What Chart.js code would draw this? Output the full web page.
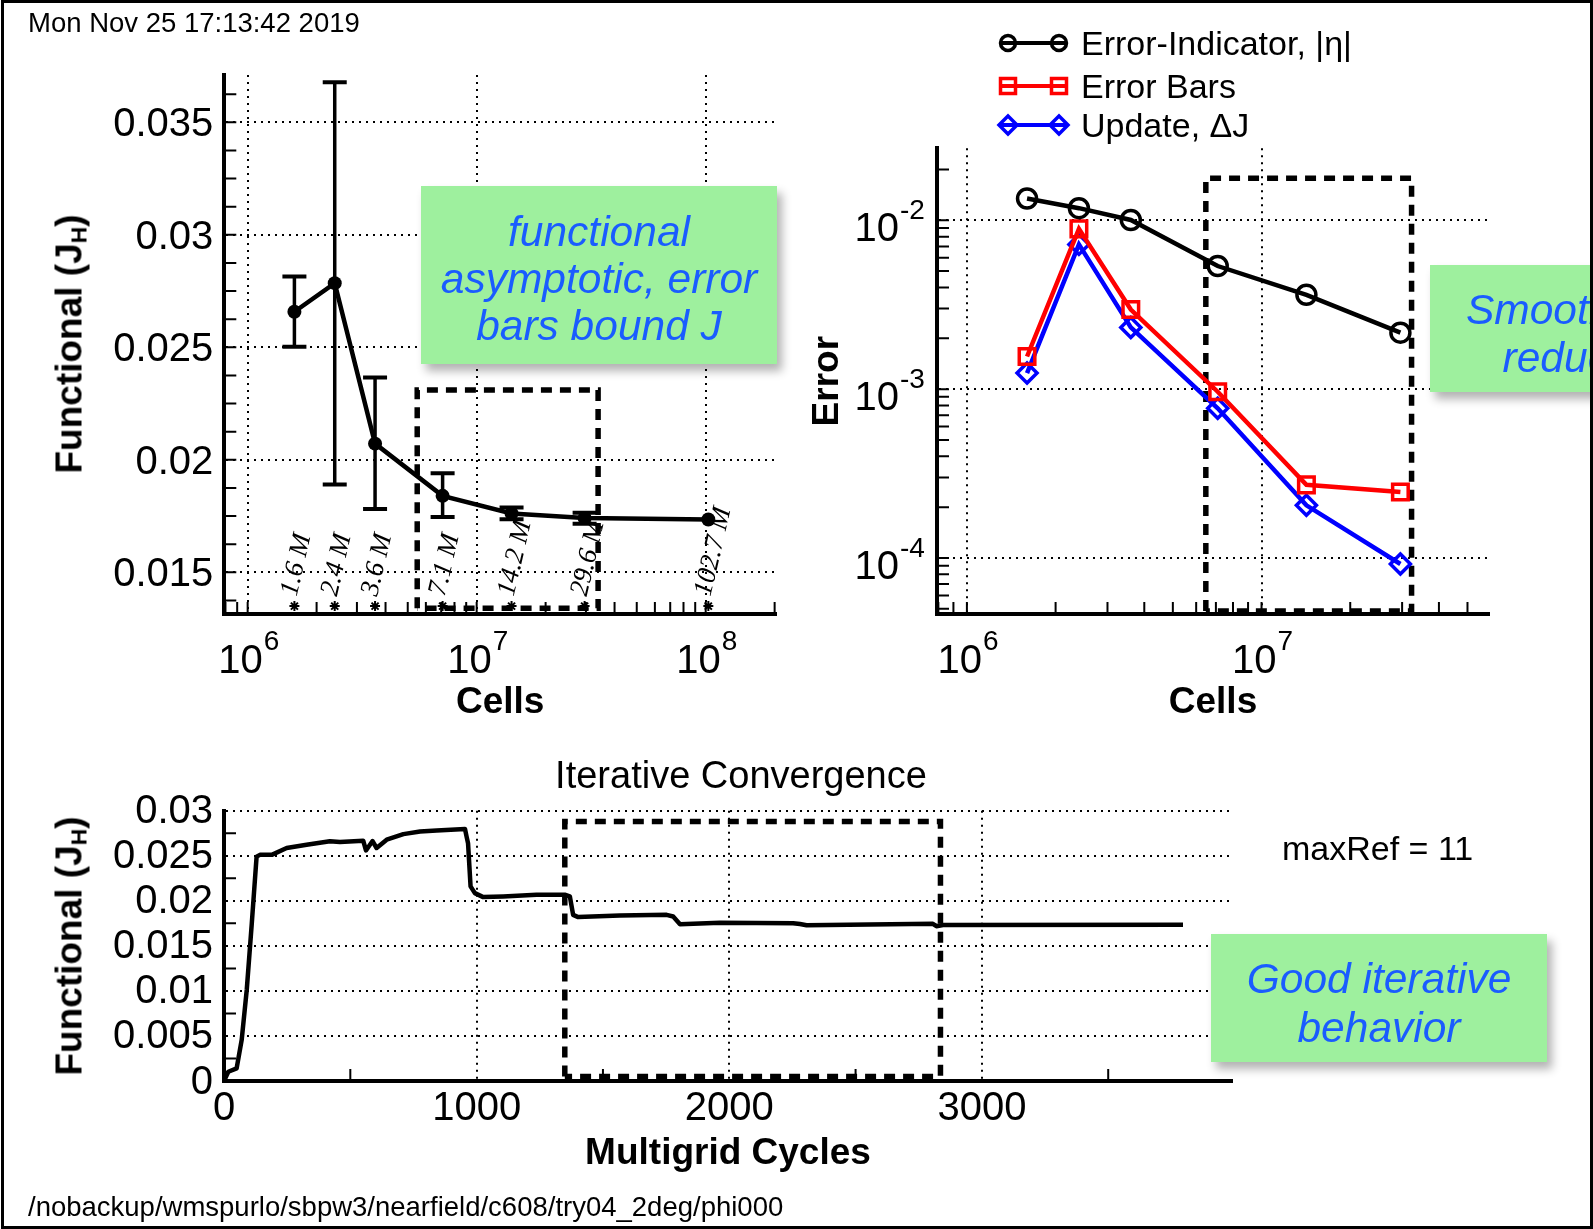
<!DOCTYPE html>
<html>
<head>
<meta charset="utf-8">
<script src="https://cdn.jsdelivr.net/npm/chart.js@4.4.1/dist/chart.umd.min.js"></script>
<style>
  html, body { margin: 0; padding: 0; background: #fff; }
  body { width: 1593px; height: 1229px; position: relative; overflow: hidden;
         font-family: "Liberation Sans", Arial, Helvetica, sans-serif; color: #000; }
  canvas { position: absolute; left: 0; top: 0; z-index: 1; }
  .txt { position: absolute; white-space: nowrap; line-height: 1; z-index: 2; }
  .vtitle { font-weight: bold; font-size: 37px; transform: translate(-50%, -50%) rotate(-90deg); }
  .vtitle sub { font-size: 0.62em; vertical-align: -0.22em; line-height: 0; }
  .note { position: absolute; z-index: 3; background: #9ef09e; box-shadow: 5px 7px 9px rgba(0,0,0,0.3);
          color: #1a5cff; font-style: italic; font-size: 42.5px; text-align: center; box-sizing: border-box;
          display: flex; flex-direction: column; justify-content: center; white-space: nowrap; }
  #frame { position: absolute; left: 1px; top: 0; width: 1592px; height: 1229px; box-sizing: border-box;
           border: 3px solid #000; z-index: 4; pointer-events: none; }
</style>
</head>
<body>
<canvas id="chartA" width="1593" height="1229"></canvas>
<canvas id="chartB" width="1593" height="1229"></canvas>
<canvas id="chartC" width="1593" height="1229"></canvas>

<div class="txt" style="left:28px; top:9px; font-size:27.5px;">Mon Nov 25 17:13:42 2019</div>
<div class="txt" style="left:28px; top:1193px; font-size:27.5px;">/nobackup/wmspurlo/sbpw3/nearfield/c608/try04_2deg/phi000</div>
<div class="txt vtitle" style="left:69px; top:344px;">Functional (J<sub>H</sub>)</div>
<div class="txt vtitle" style="left:69px; top:946px;">Functional (J<sub>H</sub>)</div>
<div class="txt" style="left:741px; top:775px; font-size:38px; transform:translate(-50%,-50%);">Iterative Convergence</div>
<div class="txt" style="left:1282px; top:831px; font-size:34px;">maxRef = 11</div>

<div class="note" style="left:421px; top:186px; width:356px; height:178px; line-height:47px; padding-top:6px;">
  <div>functional</div><div>asymptotic, error</div><div>bars bound J</div>
</div>
<div class="note" style="left:1430px; top:265px; width:320px; height:127px; line-height:48px; padding-top:10px;">
  <div>Smooth error</div><div>reduction</div>
</div>
<div class="note" style="left:1211px; top:934px; width:336px; height:128px; line-height:49px; padding-top:10px;">
  <div>Good iterative</div><div>behavior</div>
</div>
<div id="frame"></div>

<script>
// grid levels, millions of cells
const cellsM = [1.6, 2.4, 3.6, 7.1, 14.2, 29.6, 102.7];
const cellLabels = ['1.6 M', '2.4 M', '3.6 M', '7.1 M', '14.2 M', '29.6 M', '102.7 M'];

// functional with error bars (last grid has none)
const functional = [0.02658, 0.02785, 0.02072, 0.01840, 0.01762, 0.01742, 0.01735];
const errLow = [0.02502, 0.01890, 0.01782, 0.01746, 0.01736, 0.01716];
const errHigh = [0.02815, 0.03678, 0.02366, 0.01940, 0.01788, 0.01765];

// error estimates on the first six grids
const legendLabels = ['Error-Indicator, |\u03b7|', 'Error Bars', 'Update, \u0394J'];
const errIndicator = [0.01345, 0.0118, 0.01005, 0.00536, 0.00362, 0.00216];
const errBars = [0.00156, 0.0089, 0.00296, 0.000965, 0.000271, 0.000246];
const updateDJ = [0.001245, 0.0072, 0.00232, 0.00077, 0.000205, 0.0000921];

// iterative convergence history
const cycles = [0, 17, 50, 70, 90, 110, 129, 142, 189, 248, 327, 419, 459, 551, 562,
  588, 604, 644, 710, 776, 842, 954, 960, 966, 976, 993, 1026, 1105, 1237, 1349,
  1369, 1382, 1402, 1567, 1752, 1778, 1805, 1963, 2253, 2280, 2306, 2806, 2820, 2846, 3796];
const iterFunctional = [0, 0.00103, 0.0014, 0.00456, 0.0101, 0.0175, 0.0249, 0.0251, 0.0251, 0.02586,
  0.02622, 0.0266, 0.02652, 0.02667, 0.02559, 0.02663, 0.02586, 0.02678, 0.0274, 0.0277,
  0.0278, 0.02796, 0.02715, 0.0264, 0.0216, 0.02085, 0.02041, 0.02048, 0.02067, 0.02067,
  0.0205, 0.01844, 0.01819, 0.01837, 0.01844, 0.01826, 0.01741, 0.01757, 0.01752, 0.01742,
  0.01728, 0.01744, 0.01718, 0.01732, 0.01733];

// tick labels
const funcTicks = [0.015, 0.02, 0.025, 0.03, 0.035];
const decadesA = [6, 7, 8];
const decadesB = [6, 7];
const errDecades = [-2, -3, -4];
const iterYTicks = [0, 0.005, 0.01, 0.015, 0.02, 0.025, 0.03];
const iterXTicks = [0, 1000, 2000, 3000];

// dashed highlight boxes: [xmin, xmax, ymin, ymax]
const boxA = [5.5e6, 3.39e7, 0.0134, 0.0231];
const boxB = [6.47e6, 3.23e7, 4.85e-5, 0.01775];
const boxC = [1349, 2836, 0.0005, 0.0288];

const FONT = '"Liberation Sans", Arial, Helvetica, sans-serif';
Chart.defaults.font.family = FONT;
Chart.defaults.color = '#000';

function boxPath(b) {
    return [{x: b[0], y: b[2]}, {x: b[0], y: b[3]}, {x: b[1], y: b[3]}, {x: b[1], y: b[2]}, {x: b[0], y: b[2]}];
}
function boxDataset(b) {
    return { data: boxPath(b), showLine: true, borderColor: '#000', borderWidth: 5.5,
             borderDash: [11, 8], pointRadius: 0, borderCapStyle: 'butt', borderJoinStyle: 'miter' };
}
function logMinor(e0, e1) {
    const out = [];
    for (let e = e0; e <= e1; e++) for (let m = 1; m <= 9; m++) out.push(m * Math.pow(10, e));
    return out;
}
function linMinor(start, step, end) {
    const out = [];
    for (let v = start; v <= end + 1e-12; v += step) out.push(v);
    return out;
}
const gridOpts = { color: '#000', lineWidth: 2, drawTicks: false };
const borderOpts = { display: true, color: '#000', width: 4, dash: [2, 5] };

// small tick marks pointing into the plot
function innerTicks(xs, ys, len) {
    return {
        id: 'innerTicks',
        beforeDatasetsDraw(chart) {
            const {ctx, chartArea: a} = chart;
            ctx.save();
            ctx.strokeStyle = '#000';
            ctx.lineWidth = 2;
            ctx.beginPath();
            xs.forEach(v => {
                const p = chart.scales.x.getPixelForValue(v);
                if (p < a.left || p > a.right) return;
                ctx.moveTo(p, a.bottom); ctx.lineTo(p, a.bottom - len);
            });
            ys.forEach(v => {
                const p = chart.scales.y.getPixelForValue(v);
                if (p < a.top || p > a.bottom) return;
                ctx.moveTo(a.left, p); ctx.lineTo(a.left + len, p);
            });
            ctx.stroke();
            ctx.restore();
        }
    };
}

// 10^n labels for the log axes
function powerLabels(xExp, yExp) {
    return {
        id: 'powerLabels',
        afterDraw(chart) {
            const {ctx, chartArea: a} = chart;
            ctx.save();
            ctx.fillStyle = '#000';
            ctx.textBaseline = 'alphabetic';
            xExp.forEach(e => {
                const p = chart.scales.x.getPixelForValue(Math.pow(10, e));
                ctx.font = '40px ' + FONT; ctx.textAlign = 'right';
                ctx.fillText('10', p + 15, a.bottom + 59);
                ctx.font = '28px ' + FONT; ctx.textAlign = 'left';
                ctx.fillText(String(e), p + 16, a.bottom + 36);
            });
            yExp.forEach(e => {
                const p = chart.scales.y.getPixelForValue(Math.pow(10, e));
                ctx.font = '40px ' + FONT; ctx.textAlign = 'right';
                ctx.fillText('10', a.left - 38, p + 21);
                ctx.font = '28px ' + FONT; ctx.textAlign = 'left';
                ctx.fillText(String(e), a.left - 37, p - 1);
            });
            ctx.restore();
        }
    };
}

// ---------- top left: functional vs cells ----------
const mainA = {
    data: cellsM.map((c, i) => ({x: c * 1e6, y: functional[i]})),
    showLine: true, borderColor: '#000', borderWidth: 4.5,
    pointRadius: 7, pointBackgroundColor: '#000', pointBorderWidth: 0
};
const barsA = errLow.map((lo, i) => ({
    data: [{x: cellsM[i] * 1e6, y: lo}, {x: cellsM[i] * 1e6, y: errHigh[i]}],
    showLine: true, borderColor: '#000', borderWidth: 3.5,
    pointStyle: 'line', pointRadius: 12, pointBorderWidth: 4, pointBorderColor: '#000'
}));
const starsA = {
    data: cellsM.map(c => ({x: c * 1e6, y: 0.0135})),
    pointStyle: 'star', pointRadius: 5, pointBorderWidth: 2, pointBorderColor: '#000'
};
const datasetsA = [mainA, ...barsA, starsA, boxDataset(boxA)];
const starIndex = 1 + barsA.length;

const cellTags = {
    id: 'cellTags',
    afterDatasetsDraw(chart) {
        const {ctx} = chart;
        ctx.save();
        ctx.font = 'italic 27px "Liberation Serif", "Times New Roman", serif';
        ctx.fillStyle = '#000';
        chart.getDatasetMeta(starIndex).data.forEach((pt, i) => {
            ctx.save();
            ctx.translate(pt.x + 2, pt.y - 9);
            ctx.rotate(-77 * Math.PI / 180);
            ctx.fillText(cellLabels[i], 0, 0);
            ctx.restore();
        });
        ctx.restore();
    }
};

new Chart(document.getElementById('chartA'), {
    type: 'scatter',
    data: { datasets: datasetsA },
    options: {
        responsive: false, devicePixelRatio: 1, animation: false,
        layout: { autoPadding: false, padding: {left: 104.3, top: 75, right: 817, bottom: 504} },
        plugins: { legend: {display: false}, tooltip: {enabled: false} },
        scales: {
            x: {
                type: 'logarithmic', bounds: 'data', min: Math.pow(10, 5.898), max: Math.pow(10, 8.307),
                afterBuildTicks: s => { s.ticks = decadesA.map(e => ({value: Math.pow(10, e)})); },
                afterFit: s => { s.height = 111; },
                ticks: { display: false },
                grid: gridOpts, border: borderOpts,
                title: { display: true, text: 'Cells', font: {size: 37, weight: 'bold'}, padding: 0 }
            },
            y: {
                type: 'linear', bounds: 'data', min: 0.01315, max: 0.0371,
                afterBuildTicks: s => { s.ticks = funcTicks.map(v => ({value: v})); },
                afterFit: s => { s.width = 120; },
                ticks: { font: {size: 40}, padding: 11, labelOffset: 3, callback: v => String(v) },
                grid: gridOpts, border: borderOpts
            }
        }
    },
    plugins: [innerTicks(logMinor(5, 8), linMinor(0.01375, 0.00125, 0.0363), 12), powerLabels(decadesA, []), cellTags]
});

// ---------- top right: error estimates ----------
const seriesB = [
    { label: legendLabels[0], data: errIndicator, color: '#000', style: 'circle', r: 9.5 },
    { label: legendLabels[1], data: errBars, color: '#ff0000', style: 'rect', r: 11 },
    { label: legendLabels[2], data: updateDJ, color: '#0000ff', style: 'rectRot', r: 10 }
];
const datasetsB = seriesB.map(s => ({
    label: s.label,
    data: s.data.map((v, i) => ({x: cellsM[i] * 1e6, y: v})),
    showLine: true, borderColor: s.color, borderWidth: 4.5,
    pointStyle: s.style, pointRadius: s.r, pointBorderWidth: 3.5,
    pointBorderColor: s.color, pointBackgroundColor: 'rgba(0,0,0,0)'
}));
datasetsB.push(boxDataset(boxB));

function drawMarker(ctx, style, x, y) {
    ctx.beginPath();
    if (style === 'circle') ctx.arc(x, y, 7.5, 0, Math.PI * 2);
    else if (style === 'rect') ctx.rect(x - 7.5, y - 7.5, 15, 15);
    else { ctx.moveTo(x - 9, y); ctx.lineTo(x, y - 9); ctx.lineTo(x + 9, y); ctx.lineTo(x, y + 9); ctx.closePath(); }
    ctx.stroke();
}
const legendB = {
    id: 'legendB',
    afterDraw(chart) {
        const {ctx} = chart;
        const rows = [43, 86, 125];
        ctx.save();
        seriesB.forEach((s, i) => {
            const y = rows[i];
            ctx.strokeStyle = s.color;
            ctx.lineWidth = 4;
            ctx.beginPath(); ctx.moveTo(1001, y); ctx.lineTo(1066, y); ctx.stroke();
            ctx.lineWidth = 3.5;
            drawMarker(ctx, s.style, 1008, y);
            drawMarker(ctx, s.style, 1059, y);
            ctx.fillStyle = '#000';
            ctx.font = '34px ' + FONT;
            ctx.textAlign = 'left';
            ctx.textBaseline = 'alphabetic';
            ctx.fillText(s.label, 1081, y + 12);
        });
        ctx.restore();
    }
};

new Chart(document.getElementById('chartB'), {
    type: 'scatter',
    data: { datasets: datasetsB },
    options: {
        responsive: false, devicePixelRatio: 1, animation: false,
        layout: { autoPadding: false, padding: {left: 805.8, top: 148.3, right: 104, bottom: 504} },
        plugins: { legend: {display: false}, tooltip: {enabled: false} },
        scales: {
            x: {
                type: 'logarithmic', bounds: 'data', min: Math.pow(10, 5.8985), max: Math.pow(10, 7.772),
                afterBuildTicks: s => { s.ticks = decadesB.map(e => ({value: Math.pow(10, e)})); },
                afterFit: s => { s.height = 111; },
                ticks: { display: false },
                grid: gridOpts, border: borderOpts,
                title: { display: true, text: 'Cells', font: {size: 37, weight: 'bold'}, padding: 0 }
            },
            y: {
                type: 'logarithmic', bounds: 'data', min: Math.pow(10, -4.332), max: Math.pow(10, -1.5735),
                afterBuildTicks: s => { s.ticks = errDecades.map(e => ({value: Math.pow(10, e)})); },
                afterFit: s => { s.width = 131.2; },
                ticks: { display: false },
                grid: gridOpts, border: borderOpts,
                title: { display: true, text: 'Error', font: {size: 37, weight: 'bold'}, padding: 0 }
            }
        }
    },
    plugins: [innerTicks(logMinor(5, 7), logMinor(-5, -2), 12), powerLabels(decadesB, errDecades), legendB]
});

// ---------- bottom: iterative convergence ----------
new Chart(document.getElementById('chartC'), {
    type: 'scatter',
    data: {
        datasets: [{
            data: cycles.map((c, i) => ({x: c, y: iterFunctional[i]})),
            showLine: true, borderColor: '#000', borderWidth: 4.5, pointRadius: 0,
            borderJoinStyle: 'round'
        }, boxDataset(boxC)]
    },
    options: {
        responsive: false, devicePixelRatio: 1, animation: false,
        layout: { autoPadding: false, padding: {left: 104, top: 810.7, right: 361, bottom: 53} },
        plugins: { legend: {display: false}, tooltip: {enabled: false} },
        scales: {
            x: {
                type: 'linear', bounds: 'data', min: 0, max: 3990,
                afterBuildTicks: s => { s.ticks = iterXTicks.map(v => ({value: v})); },
                afterFit: s => { s.height = 95; },
                ticks: { font: {size: 40}, padding: 4, autoSkip: false, maxRotation: 0, callback: v => String(v) },
                grid: gridOpts, border: borderOpts,
                title: { display: true, text: 'Multigrid Cycles', font: {size: 37, weight: 'bold'}, padding: 0 }
            },
            y: {
                type: 'linear', bounds: 'data', min: 0, max: 0.03,
                afterBuildTicks: s => { s.ticks = iterYTicks.map(v => ({value: v})); },
                afterFit: s => { s.width = 120; },
                ticks: { font: {size: 40}, padding: 11, labelOffset: 1.5, autoSkip: false, callback: v => String(v) },
                grid: gridOpts, border: borderOpts
            }
        }
    },
    plugins: [innerTicks([500, 1500, 2500, 3500], linMinor(0.0025, 0.005, 0.0275), 12)]
});
</script>
</body>
</html>
